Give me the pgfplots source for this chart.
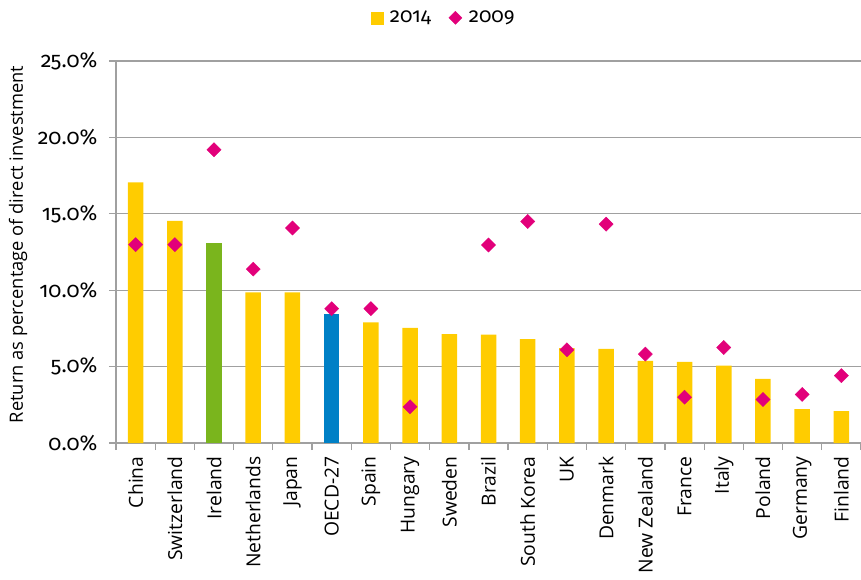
\documentclass[border=0pt]{standalone}
\usepackage{pgfplots}
\pgfplotsset{compat=1.18}
\usepackage{pgfplotstable}
\usepackage{fontspec}
\setmainfont{Open Sans}
\newfontfamily\numfont[Numbers=OldStyle]{Fira Sans}

\definecolor{fdiyellow}{HTML}{FFCC00}
\definecolor{fdigreen}{HTML}{7AB51D}
\definecolor{fdiblue}{HTML}{0080C6}
\definecolor{fdimagenta}{HTML}{E2007A}
\definecolor{gridgray}{HTML}{A0A0A0}

% 2014 returns (%), countries in yellow
\pgfplotstableread{
x val
0 17.05
1 14.53
3 9.86
4 9.86
6 7.89
7 7.53
8 7.13
9 7.09
10 6.80
11 6.21
12 6.16
13 5.38
14 5.31
15 5.07
16 4.19
17 2.22
18 2.09
}\yellowbars

% 2014 highlighted: Ireland and the OECD-27 average
\pgfplotstableread{
x val
2 13.11
}\irelandbar
\pgfplotstableread{
x val
5 8.41
}\oecdbar

% 2009 returns (%); no value for Sweden
\pgfplotstableread{
x val
0 12.98
1 12.98
2 19.19
3 11.38
4 14.07
5 8.79
6 8.79
7 2.37
9 12.96
10 14.50
11 6.10
12 14.32
13 5.82
14 3.00
15 6.25
16 2.85
17 3.18
18 4.41
}\nineteen

\begin{document}
\begin{tikzpicture}[x=1pt,y=1pt]
\useasboundingbox (-116pt,-136pt) rectangle (745pt,443pt);
\begin{axis}[
  at={(0pt,0pt)}, anchor=south west,
  scale only axis,
  width=745pt, height=382pt,
  xmin=-0.5, xmax=18.5,
  ymin=0, ymax=25,
  axis x line*=bottom,
  axis y line*=left,
  axis line style={draw=gridgray, line width=1.3pt},
  ymajorgrids,
  grid style={draw=gridgray, line width=1.3pt},
  ytick={0,5,10,15,20,25},
  yticklabels={0.0\%,5.0\%,10.0\%,15.0\%,20.0\%,25.0\%},
  yticklabel style={font=\numfont\fontsize{21.5}{24}\selectfont, xshift=-8pt},
  ytick style={draw=gridgray, line width=1.3pt},
  xtick={-0.5,0.5,...,18.5},
  xticklabels={},
  xtick style={draw=gridgray, line width=1.3pt},
  tick align=outside,
  major tick length=7pt,
  extra x ticks={0,1,...,18},
  extra x tick labels={China,Switzerland,Ireland,Netherlands,Japan,OECD-27,Spain,Hungary,Sweden,Brazil,South Korea,UK,Denmark,New Zealand,France,Italy,Poland,Germany,Finland},
  extra x tick style={major tick length=0pt,
    tick label style={rotate=90, anchor=east, font=\fontsize{19.3}{22}\selectfont, xshift=-10pt}},
  ylabel={Return as percentage of direct investment},
  every axis y label/.style={at={(axis description cs:-0.1315,0.52)}, rotate=90, anchor=center,
    font=\fontsize{18.3}{21}\selectfont},
  clip=false,
  legend style={at={(axis description cs:0.44,1.113)}, anchor=center, draw=none,
    legend columns=2, font=\numfont\fontsize{20.5}{23}\selectfont,
    /tikz/every odd column/.append style={column sep=5pt},
    /tikz/every even column/.append style={column sep=16pt}},
]
\addlegendimage{only marks, mark=square*, mark size=6pt, color=fdiyellow}
\addlegendentry{2014}
\addlegendimage{only marks, mark=square*, mark size=4.6pt, mark options={rotate=45}, color=fdimagenta}
\addlegendentry{2009}

\addplot[ybar, bar width=15.5pt, bar shift=0pt, fill=fdiyellow, draw=none, forget plot]
  table[x=x, y=val] {\yellowbars};
\addplot[ybar, bar width=15.5pt, bar shift=0pt, fill=fdigreen, draw=none, forget plot]
  table[x=x, y=val] {\irelandbar};
\addplot[ybar, bar width=15.5pt, bar shift=0pt, fill=fdiblue, draw=none, forget plot]
  table[x=x, y=val] {\oecdbar};
\addplot[only marks, mark=square*, mark size=5pt, mark options={rotate=45, fill=fdimagenta, draw=fdimagenta}, forget plot]
  table[x=x, y=val] {\nineteen};
\end{axis}
\end{tikzpicture}
\end{document}
